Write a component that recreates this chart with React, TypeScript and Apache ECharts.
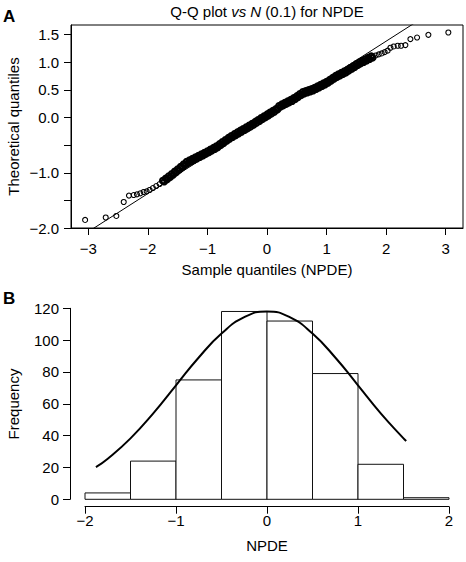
import { useEffect, useRef } from 'react';
import * as echarts from 'echarts';

// ---------- Panel A: Q-Q plot data (sample quantile, theoretical quantile) ----------
// sparse lower tail
const qqLowX = [-3.053, -2.707, -2.529, -2.405, -2.317, -2.238, -2.183, -2.127, -2.070, -2.020, -1.970, -1.915, -1.859, -1.802];
const qqLowY = [-1.854, -1.810, -1.782, -1.529, -1.413, -1.403, -1.390, -1.372, -1.348, -1.336, -1.312, -1.276, -1.240, -1.204];

// dense body
const qqBodyX = [
  -1.750, -1.725, -1.700, -1.675, -1.650, -1.625, -1.600, -1.575, -1.550, -1.525,
  -1.500, -1.475, -1.450, -1.425, -1.400, -1.375, -1.350, -1.325, -1.300, -1.275,
  -1.250, -1.225, -1.200, -1.175, -1.150, -1.125, -1.100, -1.075, -1.050, -1.025,
  -1.000, -0.975, -0.950, -0.925, -0.900, -0.875, -0.850, -0.825, -0.800, -0.775,
  -0.750, -0.725, -0.700, -0.675, -0.650, -0.625, -0.600, -0.575, -0.550, -0.525,
  -0.500, -0.475, -0.450, -0.425, -0.400, -0.375, -0.350, -0.325, -0.300, -0.275,
  -0.250, -0.225, -0.200, -0.175, -0.150, -0.125, -0.100, -0.075, -0.050, -0.025,
  0.000, 0.025, 0.050, 0.075, 0.100, 0.125, 0.150, 0.175, 0.200, 0.225,
  0.250, 0.275, 0.300, 0.325, 0.350, 0.375, 0.400, 0.425, 0.450, 0.475,
  0.500, 0.525, 0.550, 0.575, 0.600, 0.625, 0.650, 0.675, 0.700, 0.725,
  0.750, 0.775, 0.800, 0.825, 0.850, 0.875, 0.900, 0.925, 0.950, 0.975,
  1.000, 1.025, 1.050, 1.075, 1.100, 1.125, 1.150, 1.175, 1.200, 1.225,
  1.250, 1.275, 1.300, 1.325, 1.350, 1.375, 1.400, 1.425, 1.450, 1.475,
  1.500, 1.525, 1.550, 1.575, 1.600, 1.625, 1.650, 1.675, 1.700, 1.725,
  1.750, 1.775,
];
const qqBodyY = [
  -1.143, -1.162, -1.101, -1.120, -1.059, -1.079, -1.018, -1.037, -0.976, -0.995,
  -0.933, -0.950, -0.888, -0.905, -0.843, -0.860, -0.798, -0.824, -0.771, -0.797,
  -0.744, -0.770, -0.717, -0.743, -0.690, -0.716, -0.663, -0.690, -0.635, -0.660,
  -0.606, -0.631, -0.576, -0.601, -0.547, -0.572, -0.517, -0.539, -0.479, -0.500,
  -0.441, -0.462, -0.403, -0.424, -0.365, -0.386, -0.330, -0.354, -0.298, -0.322,
  -0.266, -0.290, -0.234, -0.259, -0.204, -0.228, -0.173, -0.198, -0.143, -0.167,
  -0.110, -0.133, -0.076, -0.099, -0.042, -0.065, -0.007, -0.030, 0.026, 0.003,
  0.060, 0.036, 0.093, 0.069, 0.126, 0.103, 0.159, 0.143, 0.210, 0.191,
  0.244, 0.218, 0.271, 0.245, 0.298, 0.272, 0.326, 0.299, 0.355, 0.333,
  0.391, 0.370, 0.428, 0.406, 0.464, 0.434, 0.482, 0.451, 0.500, 0.469,
  0.518, 0.487, 0.541, 0.514, 0.568, 0.541, 0.595, 0.568, 0.622, 0.595,
  0.650, 0.627, 0.685, 0.663, 0.721, 0.699, 0.757, 0.732, 0.786, 0.759,
  0.813, 0.786, 0.840, 0.813, 0.870, 0.847, 0.903, 0.880, 0.937, 0.914,
  0.971, 0.948, 1.005, 0.979, 1.032, 1.005, 1.059, 1.032, 1.086, 1.059,
  1.112, 1.086,
];

// sparse upper tail
const qqHighX = [1.825, 1.875, 1.925, 1.975, 2.025, 2.072, 2.127, 2.194, 2.251, 2.323, 2.407, 2.519, 2.709, 3.044];
const qqHighY = [1.124, 1.143, 1.161, 1.185, 1.211, 1.264, 1.287, 1.300, 1.300, 1.312, 1.421, 1.449, 1.498, 1.540];

// reference line endpoints (sample, theoretical)
const qqLineX = [-3.3, 3.3];
const qqLineY = [-2.274, 2.28];

const qqXTicks = [-3, -2, -1, 0, 1, 2, 3];
const qqYTicks = [-2, -1.5, -1, -0.5, 0, 0.5, 1, 1.5];
const qqYLabels = [-2, -1, 0, 0.5, 1, 1.5];

// ---------- Panel B: histogram ----------
const binEdges = [-2, -1.5, -1, -0.5, 0, 0.5, 1, 1.5, 2];
const histCounts = [4, 24, 75, 118, 112, 79, 22, 1];

const curveX = [-1.88, -1.75, -1.5, -1.25, -1.0, -0.75, -0.5, -0.25, 0, 0.25, 0.5, 0.75, 1.0, 1.25, 1.5, 1.53];
const curveY = [20.2, 25.5, 38.3, 54.0, 71.6, 89.1, 104.1, 114.4, 118, 114.4, 104.1, 89.1, 71.6, 54.0, 38.3, 36.6];

const histXTicks = [-2, -1, 0, 1, 2];
const histYTicks = [0, 20, 40, 60, 80, 100, 120];

const FONT = '"Liberation Sans", Arial, Helvetica, sans-serif';
const FS = 15;

const withMinus = (s: string) => s.replace('-', '\u2212');

export default function App() {
  const ref = useRef<HTMLDivElement>(null);

  useEffect(() => {
    if (!ref.current) return;
    const chart = echarts.init(ref.current, undefined, { renderer: 'svg' });

    const labelStyle = { fontSize: FS, fontFamily: FONT, color: '#000' };
    const tickStyle = { color: '#000', width: 1 };

    const pts = (xs: number[], ys: number[]) => xs.map((x, i) => [x, ys[i]]);
    const qqSeries = (xs: number[], ys: number[], size: number, bw: number) => ({
      type: 'scatter', xAxisIndex: 0, yAxisIndex: 0,
      data: pts(xs, ys),
      symbol: 'circle', symbolSize: size,
      itemStyle: { color: 'rgba(0,0,0,0)', borderColor: '#000', borderWidth: bw, opacity: 1 },
      z: 3,
    });

    const option: any = {
      animation: false,
      backgroundColor: '#fff',
      grid: [
        { left: 71, top: 25, width: 392, height: 203, show: true, borderColor: '#000', borderWidth: 1, backgroundColor: 'transparent' },
        { left: 85, top: 308.3, width: 364, height: 191 },
      ],
      xAxis: [
        {
          gridIndex: 0, type: 'value', min: -3.29, max: 3.29,
          splitLine: { show: false },
          axisLine: { show: true, onZero: false, lineStyle: tickStyle },
          axisTick: { show: true, inside: false, length: 7, customValues: qqXTicks, lineStyle: tickStyle },
          axisLabel: { ...labelStyle, margin: 13, customValues: qqXTicks, formatter: (v: number) => withMinus(String(v)) },
        },
        {
          gridIndex: 1, type: 'value', min: -2, max: 2, interval: 1, offset: 7.4,
          splitLine: { show: false },
          axisLine: { show: true, onZero: false, lineStyle: tickStyle },
          axisTick: { show: true, inside: false, length: 7, customValues: histXTicks, lineStyle: tickStyle },
          axisLabel: { ...labelStyle, margin: 6, customValues: histXTicks, formatter: (v: number) => withMinus(String(v)) },
        },
      ],
      yAxis: [
        {
          gridIndex: 0, type: 'value', min: -2, max: 1.676,
          splitLine: { show: false },
          axisLine: { show: true, onZero: false, lineStyle: tickStyle },
          axisTick: { show: true, inside: false, length: 7, customValues: qqYTicks, lineStyle: tickStyle },
          axisLabel: { ...labelStyle, margin: 12, customValues: qqYLabels, formatter: (v: number) => withMinus(v.toFixed(1)) },
        },
        {
          gridIndex: 1, type: 'value', min: 0, max: 120, interval: 20, offset: 15,
          splitLine: { show: false },
          axisLine: { show: true, onZero: false, lineStyle: tickStyle },
          axisTick: { show: true, inside: false, length: 7, customValues: histYTicks, lineStyle: tickStyle },
          axisLabel: { ...labelStyle, margin: 11, customValues: histYTicks, formatter: (v: number) => String(v) },
        },
      ],
      series: [
        {
          type: 'line', xAxisIndex: 0, yAxisIndex: 0,
          data: pts(qqLineX, qqLineY),
          showSymbol: false, symbol: 'none', clip: true,
          lineStyle: { color: '#000', width: 1 },
          z: 2,
        },
        qqSeries(qqLowX, qqLowY, 5, 1.1),
        qqSeries(qqBodyX, qqBodyY, 5.5, 2.2),
        qqSeries(qqHighX, qqHighY, 5, 1.1),
        {
          type: 'custom', xAxisIndex: 1, yAxisIndex: 1,
          data: histCounts.map((c, i) => [binEdges[i], binEdges[i + 1], c]),
          encode: { x: [0, 1], y: 2 },
          renderItem: (_params: any, api: any) => {
            const p0 = api.coord([api.value(0), api.value(2)]);
            const p1 = api.coord([api.value(1), 0]);
            return {
              type: 'rect',
              shape: { x: p0[0], y: p0[1], width: p1[0] - p0[0], height: p1[1] - p0[1] },
              style: { fill: '#fff', stroke: '#111', lineWidth: 1 },
            };
          },
          z: 2,
        },
        {
          type: 'line', xAxisIndex: 1, yAxisIndex: 1,
          data: pts(curveX, curveY),
          smooth: true, showSymbol: false, symbol: 'none',
          lineStyle: { color: '#000', width: 2 },
          z: 3,
        },
      ],
      graphic: [
        { type: 'text', x: 3, y: 16, style: { text: 'A', font: `bold 17px ${FONT}`, fill: '#000', textAlign: 'left', textVerticalAlign: 'middle' } },
        { type: 'text', x: 3, y: 298, style: { text: 'B', font: `bold 17px ${FONT}`, fill: '#000', textAlign: 'left', textVerticalAlign: 'middle' } },
        {
          type: 'text', x: 267, y: 11,
          style: {
            text: 'Q-Q plot {i|vs} {i|N} (0.1) for NPDE',
            font: `${FS}px ${FONT}`, fill: '#000', textAlign: 'center', textVerticalAlign: 'middle',
            rich: { i: { fontStyle: 'italic', fontSize: FS, fontFamily: FONT, fill: '#000' } },
          },
        },
        { type: 'text', x: 13, y: 126.5, rotation: Math.PI / 2, style: { text: 'Theoretical quantiles', font: `${FS}px ${FONT}`, fill: '#000', textAlign: 'center', textVerticalAlign: 'middle' } },
        { type: 'text', x: 267, y: 269, style: { text: 'Sample quantiles (NPDE)', font: `${FS}px ${FONT}`, fill: '#000', textAlign: 'center', textVerticalAlign: 'middle' } },
        { type: 'text', x: 13, y: 404, rotation: Math.PI / 2, style: { text: 'Frequency', font: `${FS}px ${FONT}`, fill: '#000', textAlign: 'center', textVerticalAlign: 'middle' } },
        { type: 'text', x: 267, y: 545, style: { text: 'NPDE', font: `${FS}px ${FONT}`, fill: '#000', textAlign: 'center', textVerticalAlign: 'middle' } },
      ],
    };

    chart.setOption(option);
    return () => chart.dispose();
  }, []);

  return <div ref={ref} style={{ position: 'fixed', left: 0, top: 0, width: 466, height: 562, background: '#fff' }} />;
}
